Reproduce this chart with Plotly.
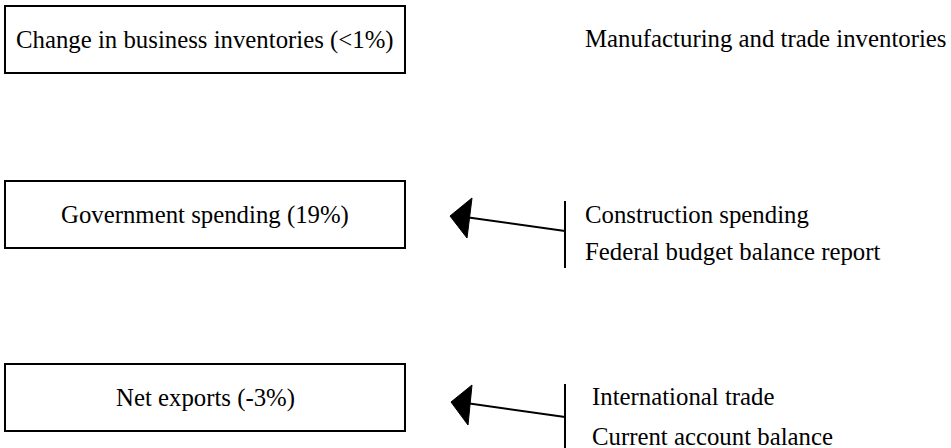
import plotly.graph_objects as go

# Diagram content
components = ["Change in business inventories (<1%)", "Government spending (19%)", "Net exports (-3%)"]
indicators = [
    ["Manufacturing and trade inventories"],
    ["Construction spending", "Federal budget balance report"],
    ["International trade", "Current account balance"],
]

W, H = 951, 448
FONT = dict(family="Liberation Serif, Times New Roman, serif", size=24.8, color="black")

# layout geometry (pixels)
box_x0, box_x1 = 5, 405
box_tops = [6, 181, 364]
box_h = 67
bar_x = 565
text_x = [583, 583, 590]
ind_y = [[38], [214, 251], [396, 436]]
bar_spans = [None, (201, 268), (384, 448)]
line_start_y = [None, 231, 417]
tips = [None, (450, 216), (451, 402)]
heads = [None, [(472, 198), (467, 238)], [(472, 385), (468, 425)]]

fig = go.Figure()
shapes = []
annotations = []
for i, label in enumerate(components):
    y0 = box_tops[i]
    shapes.append(dict(type="rect", x0=box_x0, x1=box_x1, y0=y0, y1=y0 + box_h,
                       line=dict(color="black", width=2), fillcolor="white", layer="below"))
    annotations.append(dict(x=(box_x0 + box_x1) / 2, y=y0 + box_h / 2, text=label,
                            showarrow=False, xanchor="center", yanchor="middle", font=FONT))
    for name, yy in zip(indicators[i], ind_y[i]):
        annotations.append(dict(x=text_x[i], y=yy, text=name, showarrow=False,
                                xanchor="left", yanchor="middle", font=FONT))
    if bar_spans[i] is not None:
        b0, b1 = bar_spans[i]
        shapes.append(dict(type="line", x0=bar_x, x1=bar_x, y0=b0, y1=b1,
                           line=dict(color="black", width=2)))
        tx, ty = tips[i]
        shapes.append(dict(type="line", x0=bar_x, y0=line_start_y[i], x1=tx + 15, y1=ty + 1,
                           line=dict(color="black", width=2)))
        (ax, ay), (bx, by) = heads[i]
        shapes.append(dict(type="path", path=f"M {tx},{ty} L {ax},{ay} L {bx},{by} Z",
                           fillcolor="black", line=dict(color="black", width=1)))

fig.update_layout(
    width=W, height=H, margin=dict(l=0, r=0, t=0, b=0),
    paper_bgcolor="white", plot_bgcolor="white",
    xaxis=dict(range=[0, W], visible=False, fixedrange=True),
    yaxis=dict(range=[H, 0], visible=False, fixedrange=True),
    shapes=shapes, annotations=annotations, showlegend=False,
)
fig.write_html(
    "out.html",
    config={"displayModeBar": False},
    post_script="document.body.style.margin='0';document.body.style.padding='0';document.body.style.overflow='hidden';",
)
